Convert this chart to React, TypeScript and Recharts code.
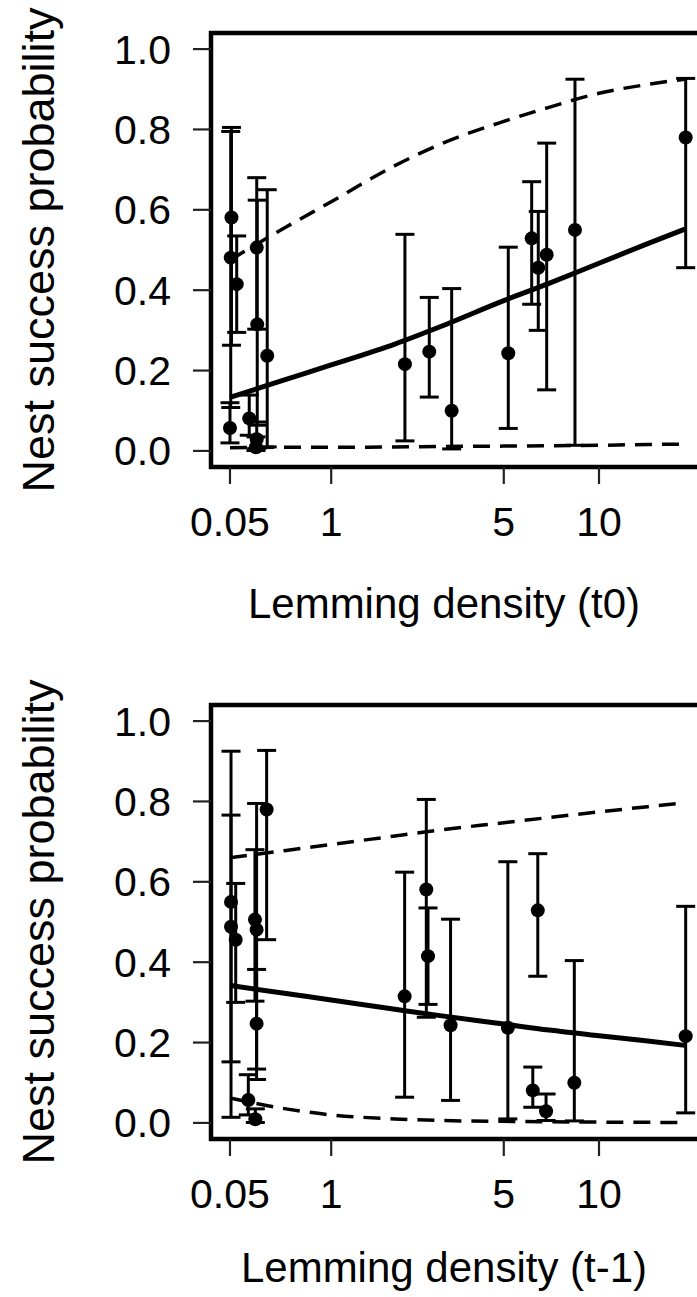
import { ComposedChart, Scatter, Line, XAxis, YAxis, ErrorBar, ReferenceArea, Label } from 'recharts';

const FONT = '"Liberation Sans", Arial, sans-serif';

// one entry per site: nest success estimate with its 95% CI
const SUCCESS = [0.581, 0.481, 0.415, 0.057, 0.506, 0.315, 0.081, 0.029, 0.009, 0.237, 0.216, 0.247, 0.1, 0.243, 0.529, 0.456, 0.488, 0.55, 0.78];
const CI_LOW = [0.263, 0.108, 0.295, 0.02, 0.303, 0.064, 0.039, 0.006, 0.001, 0.01, 0.025, 0.134, 0.005, 0.056, 0.365, 0.3, 0.152, 0.014, 0.456];
const CI_HIGH = [0.805, 0.795, 0.535, 0.12, 0.68, 0.624, 0.139, 0.072, 0.035, 0.65, 0.539, 0.382, 0.404, 0.507, 0.67, 0.596, 0.766, 0.925, 0.927];

// lemming density for the same sites, current year and previous year
const DENSITY_T0 = [0.06, 0.055, 0.096, 0.05, 0.245, 0.249, 0.187, 0.245, 0.239, 0.331, 2.198, 2.734, 3.306, 5.174, 6.166, 6.473, 6.884, 8.44, 18.1];
const DENSITY_T1 = [2.664, 0.244, 2.704, 0.18, 0.231, 2.192, 6.217, 6.853, 0.234, 5.158, 18.1, 0.244, 8.4, 3.276, 6.45, 0.089, 0.057, 0.057, 0.326];

// fitted curves with confidence band
const CURVE_DENSITY = [0.05, 0.5, 1, 2, 3, 5, 7, 10, 14, 18];
const T0_FIT = [0.133, 0.178, 0.214, 0.266, 0.309, 0.374, 0.417, 0.467, 0.516, 0.552];
const T0_UPPER = [0.475, 0.557, 0.62, 0.71, 0.763, 0.82, 0.855, 0.89, 0.912, 0.925];
const T0_LOWER = [0.008, 0.009, 0.009, 0.01, 0.011, 0.012, 0.013, 0.014, 0.016, 0.017];
const T1_FIT = [0.342, 0.322, 0.306, 0.283, 0.267, 0.246, 0.231, 0.217, 0.204, 0.193];
const T1_UPPER = [0.66, 0.678, 0.693, 0.714, 0.729, 0.747, 0.76, 0.774, 0.787, 0.797];
const T1_LOWER = [0.062, 0.035, 0.02, 0.01, 0.006, 0.004, 0.003, 0.002, 0.0015, 0.001];

const X_TICK_LABELS = [0.05, 1, 5, 10];
const Y_TICKS = [0, 0.2, 0.4, 0.6, 0.8, 1];

// x axis is log(density + 1)
const lx = (d: number) => Math.log(d + 1);
const X_TICKS = X_TICK_LABELS.map(lx);
const X_DOMAIN: [number, number] = [-0.072, 3.27];
const Y_DOMAIN: [number, number] = [-0.04, 1.04];

const tickStyle = { fill: '#000', fontSize: 41, fontFamily: FONT };

const Dot = (props: any) => <circle cx={props.cx} cy={props.cy} r={7} fill="#000" />;

interface PanelProps {
  density: number[];
  fit: number[];
  upper: number[];
  lower: number[];
  title: string;
  titleY: number;
  top: number;
}

function Panel({ density, fit, upper, lower, title, titleY, top }: PanelProps) {
  const points = density.map((d, i) => ({
    lx: lx(d),
    p: SUCCESS[i],
    err: [SUCCESS[i] - CI_LOW[i], CI_HIGH[i] - SUCCESS[i]],
  }));
  const curve = CURVE_DENSITY.map((d, i) => ({ lx: lx(d), fit: fit[i], upper: upper[i], lower: lower[i] }));

  return (
    <div style={{ position: 'absolute', left: 0, top }}>
      <ComposedChart width={760} height={650} margin={{ top: 33, right: 24, bottom: 0, left: 0 }}>
        <XAxis
          dataKey="lx"
          type="number"
          domain={X_DOMAIN}
          ticks={X_TICKS}
          interval={0}
          allowDataOverflow
          tickFormatter={(v: number) => String(X_TICK_LABELS[X_TICKS.findIndex((t) => Math.abs(t - v) < 1e-6)])}
          tick={tickStyle}
          tickSize={17}
          tickMargin={23}
          tickLine={{ stroke: '#222', strokeWidth: 2.2 }}
          axisLine={false}
          height={183}
        >
          <Label
            content={() => (
              <text x={444} y={titleY} textAnchor="middle" dominantBaseline="central" fontSize={42} fontFamily={FONT} fill="#000">
                {title}
              </text>
            )}
          />
        </XAxis>
        <YAxis
          type="number"
          domain={Y_DOMAIN}
          ticks={Y_TICKS}
          allowDataOverflow
          tickFormatter={(v: number) => v.toFixed(1)}
          tick={tickStyle}
          tickSize={18}
          tickMargin={22}
          tickLine={{ stroke: '#222', strokeWidth: 2.2 }}
          axisLine={false}
          width={211}
        >
          <Label
            content={() => (
              <text
                x={38}
                y={250}
                transform="rotate(-90, 38, 250)"
                textAnchor="middle"
                dominantBaseline="central"
                fontSize={45}
                fontFamily={FONT}
                fill="#000"
              >
                Nest success probability
              </text>
            )}
          />
        </YAxis>
        <ReferenceArea x1={X_DOMAIN[0]} x2={X_DOMAIN[1]} y1={Y_DOMAIN[0]} y2={Y_DOMAIN[1]} fill="none" stroke="#000" strokeWidth={4.5} />
        <Line data={curve} dataKey="upper" type="monotone" stroke="#000" strokeWidth={3.5} strokeDasharray="17 10" dot={false} isAnimationActive={false} />
        <Line data={curve} dataKey="lower" type="monotone" stroke="#000" strokeWidth={3.5} strokeDasharray="17 10" dot={false} isAnimationActive={false} />
        <Line data={curve} dataKey="fit" type="monotone" stroke="#000" strokeWidth={5} dot={false} isAnimationActive={false} />
        <Scatter data={points} dataKey="p" shape={Dot} isAnimationActive={false}>
          <ErrorBar dataKey="err" direction="y" width={9.5} stroke="#000" strokeWidth={3} />
        </Scatter>
      </ComposedChart>
    </div>
  );
}

export default function App() {
  return (
    <div style={{ position: 'absolute', left: 0, top: 0, width: 697, height: 1297, overflow: 'hidden', background: '#fff' }}>
      <Panel density={DENSITY_T0} fit={T0_FIT} upper={T0_UPPER} lower={T0_LOWER} title="Lemming density (t0)" titleY={603} top={0} />
      <Panel density={DENSITY_T1} fit={T1_FIT} upper={T1_UPPER} lower={T1_LOWER} title="Lemming density (t-1)" titleY={595} top={672} />
    </div>
  );
}
